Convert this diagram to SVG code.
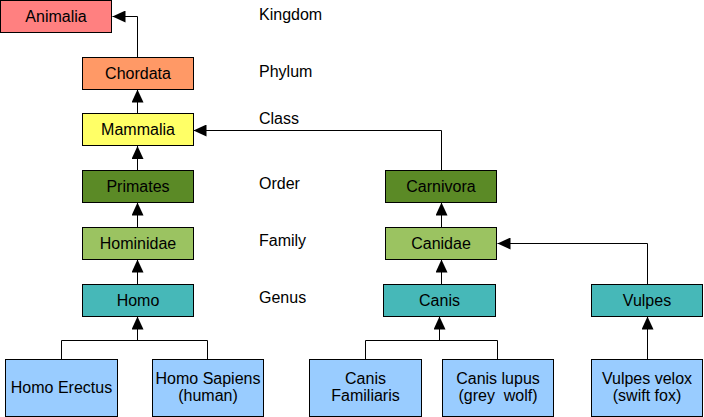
<svg xmlns="http://www.w3.org/2000/svg" width="704" height="417" viewBox="0 0 704 417">
<defs>
<marker id="ah" markerWidth="14" markerHeight="12" refX="13" refY="6" orient="auto" markerUnits="userSpaceOnUse">
<path d="M0,0 L13,6 L0,12 Z" fill="#000"/>
</marker>
</defs>
<style>
rect{stroke:#000;stroke-width:1}
text{font-family:"Liberation Sans",Arial,sans-serif;font-size:16px;fill:#000}
.c{text-anchor:middle}
.l{fill:none;stroke:#000;stroke-width:1}
.k{fill:#ff8080}.p{fill:#ff9966}.m{fill:#ffff66}.o{fill:#5b8a26}.f{fill:#9bc361}.g{fill:#46b8b8}.s{fill:#99ccff}
</style>
<g id="connectors">
<polyline class="l" points="137.5,57 137.5,16.5 112.5,16.5" marker-end="url(#ah)"/>
<line class="l" x1="137.5" y1="113" x2="137.5" y2="89.5" marker-end="url(#ah)"/>
<line class="l" x1="137.5" y1="170" x2="137.5" y2="146" marker-end="url(#ah)"/>
<line class="l" x1="137.5" y1="227" x2="137.5" y2="202.5" marker-end="url(#ah)"/>
<line class="l" x1="137.5" y1="284" x2="137.5" y2="259.5" marker-end="url(#ah)"/>
<polyline class="l" points="61.5,359 61.5,340.5 207.5,340.5 207.5,359"/>
<line class="l" x1="137.5" y1="340.5" x2="137.5" y2="316.5" marker-end="url(#ah)"/>
<polyline class="l" points="441.5,170 441.5,130.5 193.5,130.5" marker-end="url(#ah)"/>
<line class="l" x1="441.5" y1="227" x2="441.5" y2="202.5" marker-end="url(#ah)"/>
<line class="l" x1="441.5" y1="284" x2="441.5" y2="259.5" marker-end="url(#ah)"/>
<polyline class="l" points="365.5,359 365.5,340.5 497.5,340.5 497.5,359"/>
<line class="l" x1="439.5" y1="340.5" x2="439.5" y2="316.5" marker-end="url(#ah)"/>
<polyline class="l" points="647.5,284 647.5,243.5 497.5,243.5" marker-end="url(#ah)"/>
<line class="l" x1="647.5" y1="359" x2="647.5" y2="316.5" marker-end="url(#ah)"/>
</g>
<g id="labels">
<text x="259" y="20">Kingdom</text>
<text x="259" y="77">Phylum</text>
<text x="259" y="124">Class</text>
<text x="259" y="189">Order</text>
<text x="259" y="246">Family</text>
<text x="259" y="303">Genus</text>
</g>
<g id="animalia"><rect class="k" x="0.5" y="0.5" width="111" height="32"/><text class="c" x="56" y="22">Animalia</text></g>
<g id="chordata"><rect class="p" x="82.5" y="57.5" width="111" height="32"/><text class="c" x="138" y="79">Chordata</text></g>
<g id="mammalia"><rect class="m" x="82.5" y="113.5" width="111" height="32"/><text class="c" x="138" y="135">Mammalia</text></g>
<g id="primates"><rect class="o" x="82.5" y="170.5" width="111" height="32"/><text class="c" x="138" y="192">Primates</text></g>
<g id="hominidae"><rect class="f" x="82.5" y="227.5" width="111" height="32"/><text class="c" x="138" y="249">Hominidae</text></g>
<g id="homo"><rect class="g" x="82.5" y="284.5" width="111" height="32"/><text class="c" x="138" y="306">Homo</text></g>
<g id="carnivora"><rect class="o" x="385.5" y="170.5" width="111" height="32"/><text class="c" x="441" y="192">Carnivora</text></g>
<g id="canidae"><rect class="f" x="385.5" y="227.5" width="111" height="32"/><text class="c" x="441" y="249">Canidae</text></g>
<g id="canis"><rect class="g" x="383.5" y="284.5" width="112" height="32"/><text class="c" x="439.5" y="306">Canis</text></g>
<g id="vulpes"><rect class="g" x="591.5" y="284.5" width="111" height="32"/><text class="c" x="647" y="306">Vulpes</text></g>
<g id="homo-erectus"><rect class="s" x="5.5" y="359.5" width="112" height="57"/><text class="c" x="61.5" y="393">Homo Erectus</text></g>
<g id="homo-sapiens"><rect class="s" x="152.5" y="359.5" width="111" height="57"/><text class="c" x="208" y="384">Homo Sapiens</text><text class="c" x="208" y="401">(human)</text></g>
<g id="canis-familiaris"><rect class="s" x="309.5" y="359.5" width="112" height="57"/><text class="c" x="365.5" y="384">Canis</text><text class="c" x="365.5" y="401">Familiaris</text></g>
<g id="canis-lupus"><rect class="s" x="442.5" y="359.5" width="111" height="57"/><text class="c" x="498" y="384">Canis lupus</text><text class="c" x="498" y="401" xml:space="preserve">(grey  wolf)</text></g>
<g id="vulpes-velox"><rect class="s" x="591.5" y="359.5" width="111" height="57"/><text class="c" x="647" y="384">Vulpes velox</text><text class="c" x="647" y="401">(swift fox)</text></g>
</svg>
